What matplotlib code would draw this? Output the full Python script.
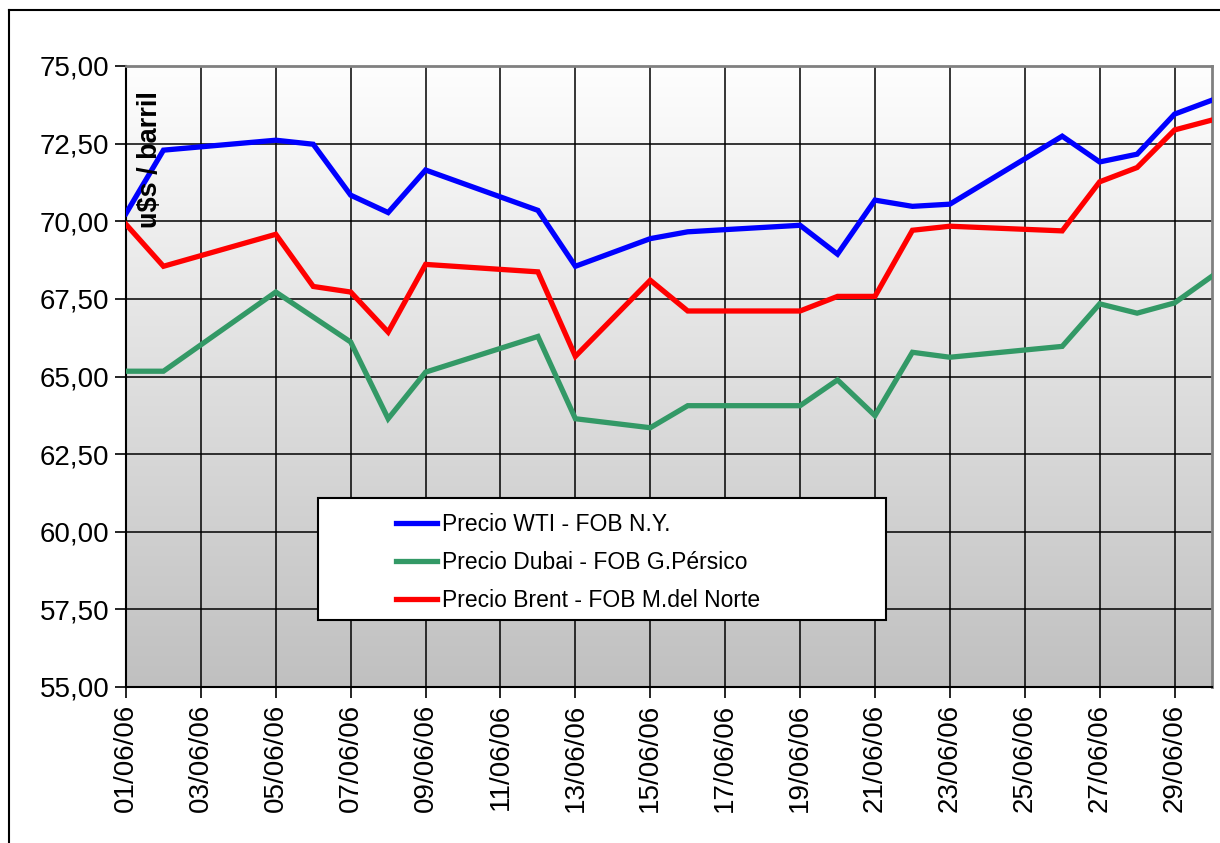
import numpy as np
import matplotlib
matplotlib.use("Agg")
import matplotlib.pyplot as plt
from matplotlib.patches import Rectangle
from matplotlib.lines import Line2D
from matplotlib.ticker import FuncFormatter

plt.rcParams['font.family'] = ['Liberation Sans', 'DejaVu Sans']

# trading days of June 2006
days_wti = [1, 2, 5, 6, 7, 8, 9, 12, 13, 15, 16, 19, 20, 21, 22, 23, 26, 27, 28, 29, 30]
wti = [70.25, 72.29, 72.61, 72.48, 70.84, 70.28, 71.65, 70.35, 68.55, 69.44, 69.66,
       69.87, 68.94, 70.68, 70.48, 70.55, 72.74, 71.91, 72.16, 73.45, 73.90]

days_dubai = [1, 2, 5, 7, 8, 9, 12, 13, 15, 16, 19, 20, 21, 22, 23, 26, 27, 28, 29, 30]
dubai = [65.17, 65.17, 67.72, 66.11, 63.64, 65.14, 66.29, 63.64, 63.35, 64.06, 64.06,
         64.89, 63.74, 65.78, 65.62, 65.97, 67.34, 67.04, 67.37, 68.23]

days_brent = [1, 2, 5, 6, 7, 8, 9, 12, 13, 15, 16, 19, 20, 21, 22, 23, 26, 27, 28, 29, 30]
brent = [69.90, 68.55, 69.58, 67.90, 67.72, 66.43, 68.61, 68.37, 65.65, 68.10, 67.11,
         67.11, 67.58, 67.58, 69.71, 69.84, 69.69, 71.27, 71.73, 72.94, 73.26]

labels = ["Precio WTI - FOB N.Y.", "Precio Dubai - FOB G.Pérsico", "Precio Brent - FOB M.del Norte"]
colors = ["#0000FF", "#339966", "#FF0000"]

W, H = 1220, 843
fig = plt.figure(figsize=(W / 100, H / 100), dpi=100)
ax = fig.add_axes([126 / W, 1 - 687 / H, (1212 - 126) / W, (687 - 66) / H])

# gradient background of the plot area (white on top, grey at the bottom)
grad = np.linspace(0, 1, 256).reshape(-1, 1)
ax.imshow(grad, cmap=matplotlib.colors.LinearSegmentedColormap.from_list(
    "g", ["#FEFEFE", "#C0C0C0"]), aspect='auto', extent=[0, 1, 0, 1],
    origin='upper', transform=ax.transAxes, zorder=0)

ax.set_xlim(1, 30)
ax.set_ylim(55, 75)
ax.set_xticks(range(1, 30, 2))
ax.set_xticklabels(["%02d/06/06" % d for d in range(1, 30, 2)], rotation=90)
ax.set_yticks(np.arange(55, 75.01, 2.5))
ax.yaxis.set_major_formatter(FuncFormatter(lambda v, p: ("%.2f" % v).replace(".", ",")))
ax.tick_params(axis='both', labelsize=20, length=8, width=1.2, direction='out', colors='black', pad=4)
ax.grid(True, color='black', linewidth=1.1, zorder=1)
ax.set_axisbelow(True)

for s in ['top', 'right']:
    ax.spines[s].set_color('#808080')
    ax.spines[s].set_linewidth(2)
for s in ['left', 'bottom']:
    ax.spines[s].set_color('black')
    ax.spines[s].set_linewidth(1.5)

ax.plot(days_wti, wti, color=colors[0], lw=3.8, zorder=3, solid_joinstyle='miter')
ax.plot(days_dubai, dubai, color=colors[1], lw=3.8, zorder=3, solid_joinstyle='miter')
ax.plot(days_brent, brent, color=colors[2], lw=3.8, zorder=3, solid_joinstyle='miter')

fig.text(150 / W, 1 - 160 / H, "u$s / barril", rotation=90, fontsize=19.5, fontweight='bold',
         ha='center', va='center')

# legend box
fig.patches.append(Rectangle((318 / W, 1 - 620 / H), (886 - 318) / W, (620 - 498) / H,
                             transform=fig.transFigure, facecolor='white', edgecolor='black',
                             linewidth=1.5, zorder=5))
handles = [Line2D([], [], color=c, lw=3.8) for c in colors]
fig.legend(handles, labels, loc='upper left', bbox_to_anchor=(396 / W, 1 - 513 / H),
           frameon=False, fontsize=16.5, handlelength=1.8, handletextpad=0.2,
           labelspacing=0.66, borderpad=0, borderaxespad=0)

# outer chart border (top and left visible)
fig.add_artist(Line2D([9 / W, 9 / W], [0, 1 - 10 / H], color='black', lw=1.5, transform=fig.transFigure))
fig.add_artist(Line2D([9 / W, 1], [1 - 10 / H, 1 - 10 / H], color='black', lw=1.5, transform=fig.transFigure))

fig.savefig("out.png", dpi=100, facecolor='white')
